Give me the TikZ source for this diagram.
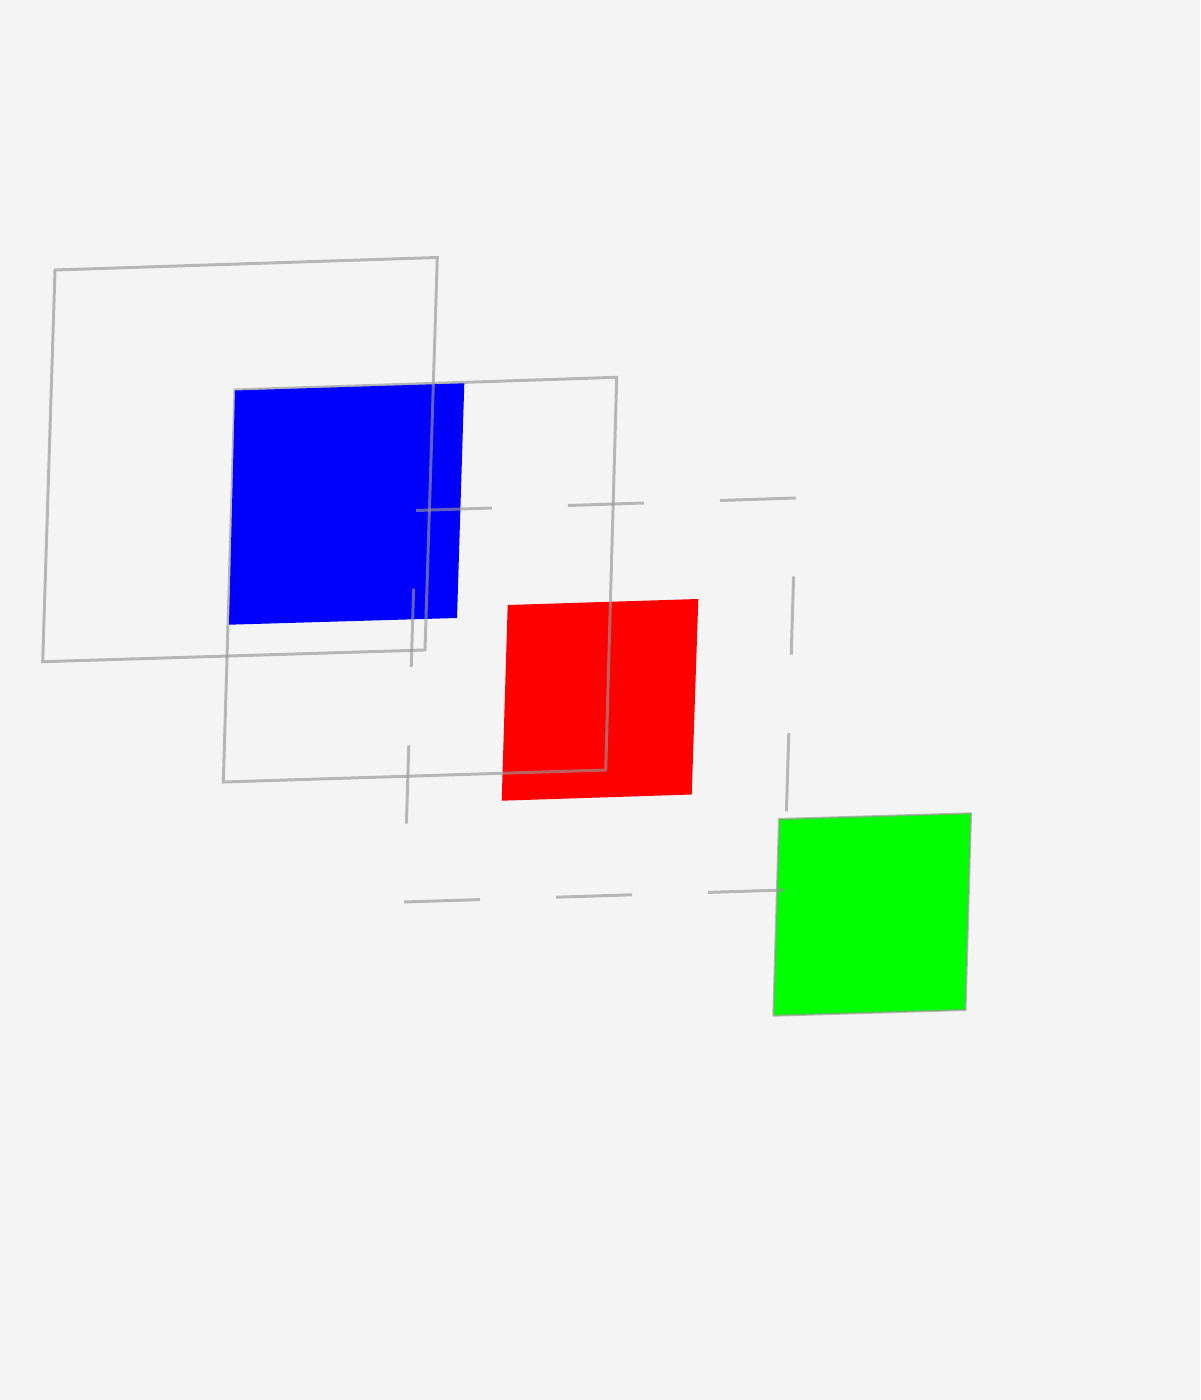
\documentclass[tikz,border=0pt]{standalone}
\usepackage{xcolor}
\usepackage{tikz}
\definecolor{pagebg}{HTML}{F4F4F4}
\definecolor{framegray}{HTML}{969696}
\definecolor{pureblue}{HTML}{0000FF}
\definecolor{purered}{HTML}{FF0000}
\definecolor{puregreen}{HTML}{00FF00}
\tikzstyle{frame} = [draw=framegray, draw opacity=0.65, line width=1.5pt]
\tikzstyle{dashedacross} = [frame, dash pattern=on 38pt off 38pt]
\tikzstyle{dasheddown} = [frame, dash pattern=on 39.2pt off 39.2pt, dash phase=39.2pt]
\tikzstyle{tile} = [draw=none]
\tikzstyle{tileborder} = [draw=framegray, draw opacity=0.65, line width=1pt]

\begin{document}
\begin{tikzpicture}[x=0.5pt, y=-0.5pt]
    % Page
    \fill[pagebg] (0,0) rectangle (1200,1400);
    \useasboundingbox (0,0) rectangle (1200,1400);

    % Red tile (under the second frame)
    \fill[tile, purered] (507.7,605) -- (698.3,599) -- (691.7,794.5) -- (501.7,800.7) -- cycle;

    % Second frame
    \draw[frame] (235,390) -- (616.7,377.3) -- (605.7,770) -- (223.3,782) -- cycle;

    % Blue tile
    \fill[tile, pureblue] (235,390.5) -- (464.3,383.3) -- (457,618) -- (229,624.7) -- cycle;

    % First frame
    \draw[frame] (55,270) -- (437.3,257.5) -- (425,650) -- (42.7,661.7) -- cycle;

    % Green tile with border
    \filldraw[tileborder, fill=puregreen] (779,819) -- (971,813.3) -- (965.5,1010) -- (773.3,1015.7) -- cycle;

    % Dashed frame, each side dashed on its own
    \coordinate (dtl) at (416,510.5);
    \coordinate (dtr) at (796,498);
    \coordinate (dbr) at (784,890);
    \coordinate (dbl) at (404,902);
    \draw[dashedacross] (dtl) -- (dtr);
    \draw[dasheddown] (dtr) -- (dbr);
    \draw[dashedacross] (dbr) -- (dbl);
    \draw[dasheddown] (dbl) -- (dtl);
\end{tikzpicture}
\end{document}
